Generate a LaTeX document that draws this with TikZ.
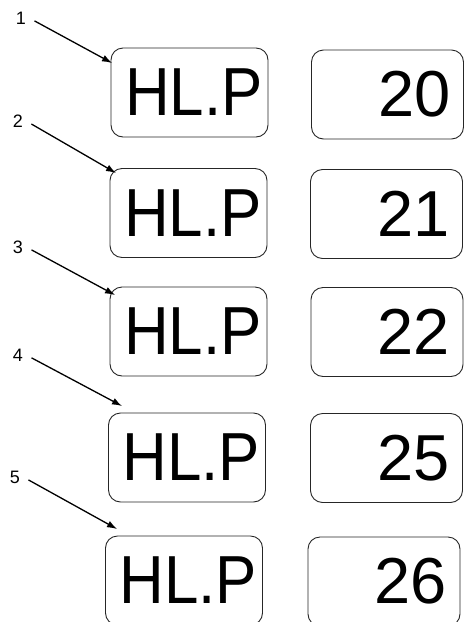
\documentclass[tikz,border=0pt]{standalone}
\usepackage{fontspec}
\setmainfont{Liberation Sans}
\usepackage{tikz}
\usetikzlibrary{arrows.meta, positioning}

\newcommand{\hlname}{\hspace*{8.6pt}\scalebox{0.91}[1]{HL.P}}

\begin{document}
\begin{tikzpicture}[
  x=1pt, y=-1pt,
  namebox/.style={rectangle, draw=black!85, line width=0.9pt,
                  rounded corners=12pt, minimum width=157pt, minimum height=89pt,
                  inner sep=0pt, font=\fontsize{68}{68}\selectfont},
  valbox/.style={rectangle, draw=black!85, line width=0.9pt,
                 rounded corners=12pt, minimum width=152pt, minimum height=89pt,
                 inner xsep=13pt, inner ysep=0pt, text width=126pt, align=right,
                 font=\fontsize{65}{65}\selectfont},
  num/.style={font=\fontsize{18}{18}\selectfont, inner sep=3pt},
  arr/.style={-{Latex[length=10pt, width=7pt]}, line width=1.3pt, shorten <=6pt}
]
  \useasboundingbox (0,0) rectangle (464,622);

  \node[namebox] (hl1) at (189.5,92.5) {\hlname};
  \node[namebox] (hl2) at (188.5,213)  {\hlname};
  \node[namebox] (hl3) at (188.5,331.5) {\hlname};
  \node[namebox] (hl4) at (187,457.5)  {\hlname};
  \node[namebox] (hl5) at (184,580.5)  {\hlname};

  \node[valbox] (v1) at (387.5,94.5) {20};
  \node[valbox] (v2) at (386.5,214)  {21};
  \node[valbox] (v3) at (387,332)    {22};
  \node[valbox] (v4) at (386.5,458)  {25};
  \node[valbox] (v5) at (384,581.5)  {26};

  \node[num] (n1) at (21,18)  {1};
  \node[num] (n2) at (18,121) {2};
  \node[num] (n3) at (18,247) {3};
  \node[num] (n4) at (18,355) {4};
  \node[num] (n5) at (15,477) {5};

  \coordinate (t1) at (112,63);
  \coordinate (t2) at (116,173);
  \coordinate (t3) at (115,295);
  \coordinate (t4) at (122,406);
  \coordinate (t5) at (117,529);

  \draw[arr] (n1.east) -- (t1);
  \draw[arr] (n2.east) -- (t2);
  \draw[arr] (n3.east) -- (t3);
  \draw[arr] (n4.east) -- (t4);
  \draw[arr] (n5.east) -- (t5);
\end{tikzpicture}
\end{document}
